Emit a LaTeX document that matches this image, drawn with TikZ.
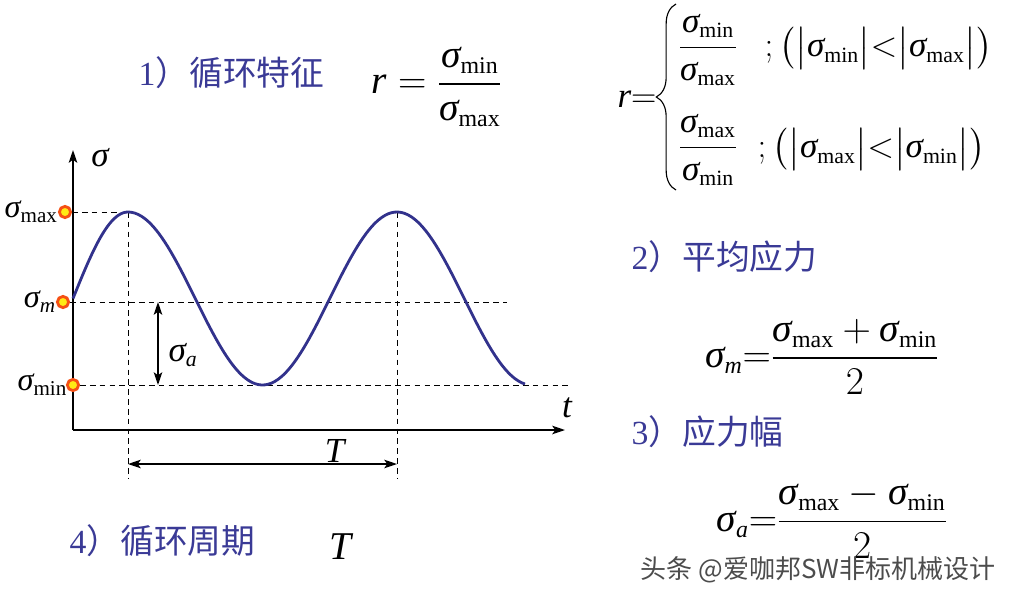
\documentclass[tikz,border=0pt]{standalone}
\usepackage{fix-cm}
\usepackage{amsmath}
\usepackage{fontspec}
\setmainfont{Liberation Serif}
\newfontfamily\cjk{Noto Sans CJK SC}
\usetikzlibrary{arrows.meta, positioning, decorations.pathreplacing}
\definecolor{titleblue}{RGB}{58,58,150}
\definecolor{curveblue}{RGB}{50,50,140}
\definecolor{ptred}{RGB}{245,80,20}
\definecolor{ptyellow}{RGB}{255,235,20}
\newcommand{\sg}{\mbox{\itshape σ}}
\DeclareMathSizes{28}{28}{17}{12}
\DeclareMathSizes{25}{25}{15.5}{11}
\DeclareMathSizes{23}{23}{15}{11}

\begin{document}
\begin{tikzpicture}[%
    x=0.025cm, y=-0.025cm,
    >={Stealth[length=9pt,width=6pt,inset=2pt]},
    every node/.style={inner sep=1pt},
    axis/.style={line width=1.4pt, ->},
    guide/.style={dash pattern=on 4pt off 3pt, line width=0.7pt},
    curve/.style={curveblue, line width=2pt},
    dimline/.style={line width=1.2pt, <->},
    levelpt/.style={circle, draw=ptred, fill=ptyellow, line width=2pt,
      minimum size=8pt, inner sep=0pt},
    title/.style={titleblue, font=\fontsize{24}{28}\selectfont\cjk, anchor=west},
    formula/.style={font=\fontsize{28}{34}\selectfont},
    small/.style={font=\fontsize{25}{30}\selectfont},
    axlab/.style={font=\fontsize{23}{28}\selectfont}
  ]
  \useasboundingbox (0,0) rectangle (1013,600);

  % axes
  \coordinate (o) at (73,430);
  \coordinate (ytop) at (73,150);
  \coordinate (xend) at (565,430);
  \draw[axis] (o) -- (ytop);
  \draw[axis] (o) -- (xend);
  \node[small] (ylab) at (100,158) {$\sg$};
  \node[small] (xlab) at (567,408) {$\mathit{t}$};

  % stress levels
  \node[levelpt] (pmax) at (65,212) {};
  \node[levelpt] (pmean) at (63,302) {};
  \node[levelpt] (pmin) at (73,385) {};
  \node[axlab, left=-1pt of pmax] (lmax) {$\sg_{\mathrm{max}}$};
  \node[axlab, left=-1pt of pmean] (lmean) {$\sg_{\mathit{m}}$};
  \node[axlab, left=-2pt of pmin] (lmin) {$\sg_{\mathrm{min}}$};

  \coordinate (pk1) at (128,212);
  \coordinate (pk2) at (397,212);
  \coordinate (meanend) at (507,302);
  \coordinate (minend) at (568,385);
  \coordinate (foot1) at (128,478);
  \coordinate (foot2) at (397,478);
  \draw[guide] (pmax) -- (pk1);
  \draw[guide] (pmean) -- (meanend);
  \draw[guide] (pmin) -- (minend);
  \draw[guide] (pk1) -- (foot1);
  \draw[guide] (pk2) -- (foot2);

  % stress curve
  \draw[curve] plot[smooth, domain=73:128, samples=25]
      (\x, {298.5-86.5*sin(90/55*(\x-73))})
    -- plot[smooth, domain=128:525, samples=120]
      (\x, {298.5-86.5*cos(360/269*(\x-128))});

  % amplitude and period
  \coordinate (ampa) at (158,302);
  \coordinate (ampb) at (158,385);
  \draw[dimline] (ampa) -- (ampb);
  \node[small] (alab) at (183,355) {$\sg_{\mathit{a}}$};
  \coordinate (pera) at (128,464);
  \coordinate (perb) at (397,464);
  \draw[dimline] (pera) -- (perb);
  \node[small, above=0pt of pera, xshift=147] (tlab) {$\mathit{T}$};

  % 1) cycle ratio
  \node[title] (t1) at (137,73) {{\rmfamily 1}）循环特征};
  \node[formula] (f1) at (437,87)
    {$\mathit{r}=\dfrac{\sg_{\mathrm{min}}}{\sg_{\mathrm{max}}}$};
  \node[small] (rlab) at (637,99) {$\mathit{r}{=}$};
  \coordinate (brb) at (676,190);
  \coordinate (brt) at (676,4);
  \draw[line width=0.8pt, decorate, decoration={brace, amplitude=14pt}]
    (brb) -- (brt);
  \node[small] (q1) at (708,50)
    {$\dfrac{\sg_{\mathrm{min}}}{\sg_{\mathrm{max}}}$};
  \node[small] (q2) at (708,150)
    {$\dfrac{\sg_{\mathrm{max}}}{\sg_{\mathrm{min}}}$};
  \node[small, anchor=west] (c1) at (763,48)
    {$;\big(\big|\sg_{\mathrm{min}}\big|{<}\big|\sg_{\mathrm{max}}\big|\big)$};
  \node[small, anchor=west] (c2) at (756,149)
    {$;\big(\big|\sg_{\mathrm{max}}\big|{<}\big|\sg_{\mathrm{min}}\big|\big)$};

  % 2) 3) 4)
  \node[title] (t2) at (630,257) {{\rmfamily 2}）平均应力};
  \node[formula] (f2) at (822,357)
    {$\sg_{\mathit{m}}{=}\dfrac{\sg_{\mathrm{max}}+\sg_{\mathrm{min}}}{2}$};
  \node[title] (t3) at (630,432) {{\rmfamily 3}）应力幅};
  \node[formula] (f3) at (832,520)
    {$\sg_{\mathit{a}}{=}\dfrac{\sg_{\mathrm{max}}-\sg_{\mathrm{min}}}{2}$};
  \node[title] (t4) at (68,541) {{\rmfamily 4}）循环周期};
  \node[formula] (t4val) at (340,547) {$\mathit{T}$};

  \node[font=\fontsize{18.5}{20}\selectfont\cjk, text=black!70] (mark) at (818,570)
    {头条 @爱咖邦SW非标机械设计};

\end{tikzpicture}
\end{document}
